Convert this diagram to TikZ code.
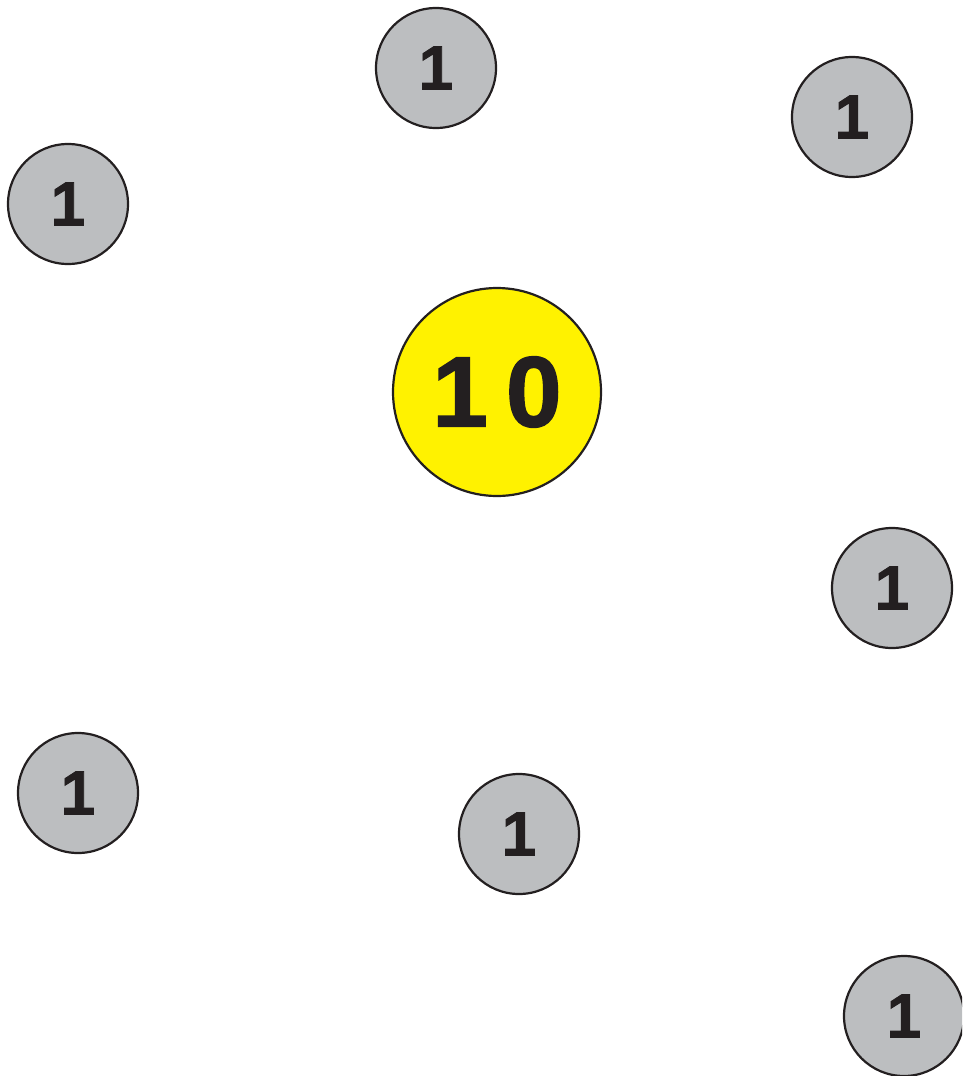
\documentclass[tikz,border=0pt]{standalone}
\usepackage{fontspec}
\setmainfont{Liberation Sans}
\newfontfamily\heavy{Liberation Sans Bold}[FakeBold=1.5]
\definecolor{chipgray}{RGB}{188,190,192}
\definecolor{chipyellow}{RGB}{255,242,0}
\definecolor{ink}{RGB}{35,31,32}
\tikzset{
  chip/.style={circle, draw=ink, line width=2.2pt, fill=chipgray, minimum size=120pt, inner sep=0pt,
    font=\fontsize{62}{62}\selectfont\heavy, text=ink},
  bigchip/.style={circle, draw=ink, line width=2.2pt, fill=chipyellow, minimum size=208pt, inner sep=0pt,
    font=\fontsize{100}{100}\selectfont\heavy, text=ink}
}
\begin{document}
\begin{tikzpicture}[x=1pt,y=-1pt]
\useasboundingbox (0,0) rectangle (962,1076);
\clip (0,0) rectangle (962,1076);
\node[chip] (a) at (436,68) {1};
\node[chip] (b) at (852,117) {1};
\node[chip] (c) at (68,204) {1};
\node[bigchip] (t) at (497,392) {1\hspace{18pt}0};
\node[chip] (d) at (892,588) {1};
\node[chip] (e) at (78,793) {1};
\node[chip] (f) at (519,834) {1};
\node[chip] (g) at (904,1016) {1};
\end{tikzpicture}
\end{document}
